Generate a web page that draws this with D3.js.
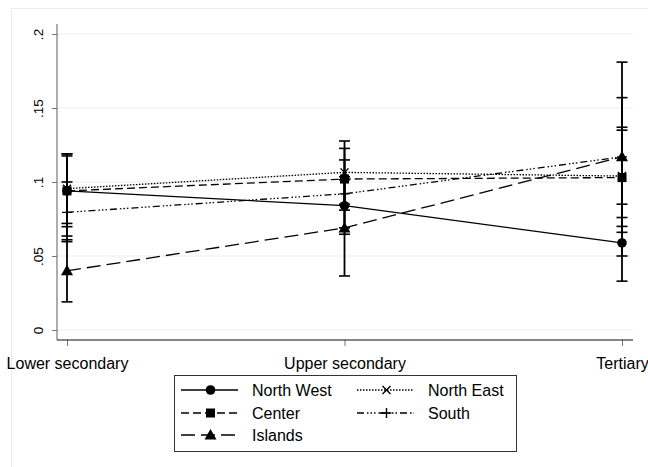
<!DOCTYPE html>
<html>
<head>
<meta charset="utf-8">
<script src="https://cdn.jsdelivr.net/npm/d3@7"></script>
<style>
  html, body { margin: 0; padding: 0; background: #fff; }
  svg { display: block; font-family: Arial, "Liberation Sans", sans-serif; }
</style>
</head>
<body>
<svg id="chart" width="648" height="467"></svg>
<script>
// Education levels on the x axis
const levels = ["Lower secondary", "Upper secondary", "Tertiary"];

// Point estimates by region
const northWest = [0.094, 0.084, 0.0588];
const northEast = [0.0955, 0.1065, 0.104];
const center    = [0.094, 0.102, 0.103];
const south     = [0.0795, 0.092, 0.117];
const islands   = [0.040, 0.069, 0.117];

// Confidence interval bounds by region
const northWestLow  = [0.0698, 0.0647, 0.033];
const northWestHigh = [0.119, 0.1035, 0.085];
const northEastLow  = [0.072, 0.085, 0.066];
const northEastHigh = [0.119, 0.1277, 0.137];
const centerLow     = [0.0635, 0.081, 0.070];
const centerHigh    = [0.1176, 0.1227, 0.135];
const southLow      = [0.0597, 0.069, 0.076];
const southHigh     = [0.100, 0.1149, 0.157];
const islandsLow    = [0.019, 0.0365, 0.050];
const islandsHigh   = [0.061, 0.1015, 0.181];

const yTicks = [0, 0.05, 0.1, 0.15, 0.2];
const yTickLabels = ["0", ".05", ".1", ".15", ".2"];

const series = [
  { name: "North West", values: northWest, low: northWestLow, high: northWestHigh,
    dash: null, marker: "circle" },
  { name: "North East", values: northEast, low: northEastLow, high: northEastHigh,
    dash: "1.5,1.5", marker: "x" },
  { name: "Center", values: center, low: centerLow, high: centerHigh,
    dash: "8,4", marker: "square" },
  { name: "South", values: south, low: southLow, high: southHigh,
    dash: "7,3,1.5,2,1.5,2,1.5,3", marker: "plus" },
  { name: "Islands", values: islands, low: islandsLow, high: islandsHigh,
    dash: "14,6", marker: "triangle" }
];

const svg = d3.select("#chart");

// Faint outer frame of the graph region
svg.append("rect")
  .attr("x", 11.5).attr("y", 8.5).attr("width", 700).attr("height", 500)
  .attr("fill", "none").attr("stroke", "#ececec");

const x = d3.scalePoint().domain(levels).range([67, 622]);
const y = d3.scaleLinear().domain([0, 0.2]).range([330, 34]);

const plotLeft = 57, plotRight = 633, plotBottom = 340;

// Horizontal grid lines
svg.append("g").selectAll("line").data(yTicks).join("line")
  .attr("x1", plotLeft).attr("x2", plotRight)
  .attr("y1", d => y(d)).attr("y2", d => y(d))
  .attr("stroke", "#e7eff1").attr("stroke-width", 1.2);

// Y axis
const yAxis = svg.append("g").attr("transform", `translate(${plotLeft},0)`)
  .call(d3.axisLeft(y).tickValues(yTicks).tickSize(5)
    .tickFormat((d, i) => yTickLabels[i]));
yAxis.select(".domain").remove();
yAxis.selectAll(".tick line").attr("stroke", "#777");
yAxis.selectAll(".tick text").remove();
yAxis.selectAll(".tick").append("text")
  .attr("transform", "translate(-14,0) rotate(-90)")
  .attr("text-anchor", "middle")
  .attr("fill", "#000")
  .style("font-size", "13.5px")
  .text((d, i) => yTickLabels[i]);
svg.append("line")
  .attr("x1", plotLeft).attr("x2", plotLeft).attr("y1", 24).attr("y2", plotBottom)
  .attr("stroke", "#777").attr("stroke-width", 1.2);

// X axis
const xAxis = svg.append("g").attr("transform", `translate(0,${plotBottom})`)
  .call(d3.axisBottom(x).tickSize(6).tickSizeOuter(0));
xAxis.select(".domain").remove();
xAxis.selectAll(".tick line").attr("stroke", "#777");
xAxis.selectAll(".tick text")
  .attr("y", 18).attr("dy", "0.71em")
  .attr("fill", "#000").style("font-size", "16px");
svg.append("line")
  .attr("x1", plotLeft).attr("x2", plotRight).attr("y1", plotBottom).attr("y2", plotBottom)
  .attr("stroke", "#111").attr("stroke-width", 1.2);

// Marker drawing helper
function drawMarker(g, type, cx, cy) {
  if (type === "circle") {
    g.append("circle").attr("cx", cx).attr("cy", cy).attr("r", 4.8).attr("fill", "#000");
  } else if (type === "square") {
    g.append("rect").attr("x", cx - 4.5).attr("y", cy - 4.5)
      .attr("width", 9).attr("height", 9).attr("fill", "#000");
  } else if (type === "triangle") {
    g.append("path")
      .attr("d", `M${cx},${cy - 6} L${cx + 6},${cy + 4.5} L${cx - 6},${cy + 4.5} Z`)
      .attr("fill", "#000");
  } else if (type === "x") {
    g.append("path")
      .attr("d", `M${cx - 4},${cy - 4} L${cx + 4},${cy + 4} M${cx - 4},${cy + 4} L${cx + 4},${cy - 4}`)
      .attr("stroke", "#000").attr("stroke-width", 1.4);
  } else if (type === "plus") {
    g.append("path")
      .attr("d", `M${cx - 5},${cy} L${cx + 5},${cy} M${cx},${cy - 5} L${cx},${cy + 5}`)
      .attr("stroke", "#000").attr("stroke-width", 1.4);
  }
}

// Confidence interval bars
const ci = svg.append("g");
series.forEach(s => {
  levels.forEach((lev, i) => {
    const cx = x(lev);
    ci.append("line")
      .attr("x1", cx).attr("x2", cx)
      .attr("y1", y(s.low[i])).attr("y2", y(s.high[i]))
      .attr("stroke", "#000").attr("stroke-width", 1.8);
    [s.low[i], s.high[i]].forEach(v => {
      ci.append("line")
        .attr("x1", cx - 5.5).attr("x2", cx + 5.5)
        .attr("y1", y(v)).attr("y2", y(v))
        .attr("stroke", "#000").attr("stroke-width", 1.6);
    });
  });
});

// Connected lines
const line = d3.line().x((d, i) => x(levels[i])).y(d => y(d));
const lines = svg.append("g");
series.forEach(s => {
  lines.append("path")
    .attr("d", line(s.values))
    .attr("fill", "none").attr("stroke", "#000").attr("stroke-width", 1.3)
    .attr("stroke-dasharray", s.dash);
});

// Markers
const marks = svg.append("g");
series.forEach(s => {
  s.values.forEach((v, i) => drawMarker(marks, s.marker, x(levels[i]), y(v)));
});

// Legend
const legend = svg.append("g");
legend.append("rect")
  .attr("x", 174.5).attr("y", 375.5).attr("width", 342).attr("height", 76)
  .attr("fill", "#fff").attr("stroke", "#333").attr("stroke-width", 1);

const legendPos = [
  { lx: 181, rowY: 390 }, { lx: 357, rowY: 390 },
  { lx: 181, rowY: 413 }, { lx: 357, rowY: 413 },
  { lx: 181, rowY: 435 }
];
series.forEach((s, i) => {
  const p = legendPos[i];
  legend.append("line")
    .attr("x1", p.lx).attr("x2", p.lx + 57).attr("y1", p.rowY).attr("y2", p.rowY)
    .attr("stroke", "#000").attr("stroke-width", 1.3)
    .attr("stroke-dasharray", s.dash);
  drawMarker(legend, s.marker, p.lx + 29.5, p.rowY);
  legend.append("text")
    .attr("x", p.lx + 71).attr("y", p.rowY).attr("dy", "0.36em")
    .style("font-size", "16px").attr("fill", "#000")
    .text(s.name);
});
</script>
</body>
</html>
